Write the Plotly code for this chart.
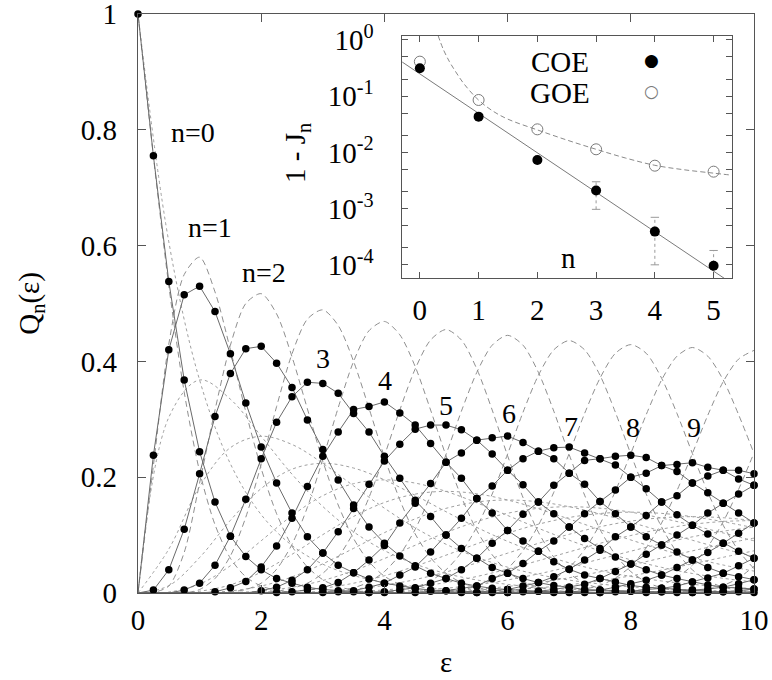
import plotly.graph_objects as go

# ---------------- data: main panel ----------------
EPS = [0, 0.25, 0.5, 0.75, 1, 1.25, 1.5, 1.75, 2, 2.25, 2.5, 2.75, 3, 3.25, 3.5, 3.75,
       4, 4.25, 4.5, 4.75, 5, 5.25, 5.5, 5.75, 6, 6.25, 6.5, 6.75, 7, 7.25, 7.5, 7.75,
       8, 8.25, 8.5, 8.75, 9, 9.25, 9.5, 9.75, 10]

# COE data points Q_n(eps), n = 0..15
COE0 = [1, .755, .538, .368, .244, .157, .098, .063, .04, .025, .017, .01, .006, .004, .002, .001, .001] + [0] * 24
COE1 = [0, .238, .42, .515, .53, .486, .413, .328, .252, .19, .138, .097, .069, .048, .035, .024, .017, .012,
        .008, .005, .004, .002, .001, .001, .001] + [0] * 16
COE2 = [0, .005, .04, .11, .206, .305, .379, .422, .426, .397, .355, .299, .248, .195, .152, .114, .086, .064,
        .047, .034, .025, .017, .012, .008, .006, .004, .003, .002, .001, .001, .001] + [0] * 10
COE3 = [0, 0, 0, .005, .017, .048, .098, .162, .232, .295, .339, .364, .362, .345, .31, .278, .236, .198, .16,
        .132, .1, .077, .06, .044, .034, .025, .018, .013, .01, .006, .005, .004, .003, .002, .002, .001, .001,
        0, 0, 0, 0]
COE4 = [0] * 5 + [.002, .009, .02, .045, .081, .129, .184, .236, .278, .317, .322, .33, .311, .29, .258, .226,
                  .198, .163, .138, .108, .09, .072, .054, .041, .031, .025, .019, .013, .01, .008, .006, .005,
                  .003, .002, .002, .001]
COE5 = [0] * 8 + [.004, .01, .022, .04, .069, .106, .146, .188, .228, .257, .283, .29, .29, .282, .264, .24,
                  .212, .187, .157, .137, .114, .094, .077, .062, .05, .04, .031, .025, .019, .014, .01, .008, .007]
COE6 = [0] * 9 + [.001, .002, .005, .009, .018, .035, .057, .082, .121, .155, .189, .226, .242, .264, .268,
                  .271, .26, .245, .232, .207, .188, .158, .137, .114, .097, .083, .071, .057, .044, .034, .028, .023]
COE7 = [0] * 12 + [.001, .002, .004, .01, .017, .031, .045, .071, .1, .129, .163, .185, .212, .232, .245, .251,
                   .252, .242, .232, .221, .2, .18, .157, .135, .117, .102, .086, .072, .06]
COE8 = [0] * 15 + [.001, .002, .005, .009, .017, .025, .04, .06, .086, .108, .136, .157, .186, .207, .229, .232,
                   .236, .238, .234, .22, .21, .19, .173, .155, .138, .121]
COE9 = [0] * 18 + [.001, .003, .004, .008, .012, .025, .034, .051, .072, .09, .114, .137, .158, .178, .2, .207,
                   .22, .222, .225, .217, .212, .197, .186]
COE10 = [0] * 21 + [.001, .001, .004, .006, .012, .018, .028, .041, .057, .074, .097, .114, .134, .157, .168, .19,
                    .202, .212, .212, .206]
COE11 = [0] * 24 + [.001, .002, .003, .006, .01, .015, .025, .037, .05, .067, .083, .1, .117, .138, .155, .171, .186]
COE12 = [0] * 27 + [.001, .002, .003, .005, .01, .016, .022, .031, .044, .057, .07, .086, .103, .121]
COE13 = [0] * 30 + [.001, .002, .003, .006, .008, .012, .019, .026, .034, .047, .06]
COE14 = [0] * 33 + [.001, .002, .003, .005, .007, .01, .016, .023]
COE15 = [0] * 36 + [.001, .0015, .002, .004, .007]
COE_CURVES = [COE0, COE1, COE2, COE3, COE4, COE5, COE6, COE7, COE8, COE9, COE10, COE11, COE12, COE13, COE14, COE15]

# GOE curves (long dashes), same eps grid
GOE0 = [1, .754, .531, .347, .21, .118, .06, .028, .012, .0045, .0016, .0005] + [0] * 29
GOE1 = [0, .22, .43, .55, .58, .52, .42, .313, .215, .137, .081, .045, .023, .011, .005, .002, .001] + [0] * 24
GOE2 = [0, .001, .012, .07, .19, .316, .428, .5, .517, .482, .408, .318, .228, .152, .094, .054, .029, .015,
        .007, .003, .001] + [0] * 20
GOE3 = [0] * 4 + [.006, .025, .064, .131, .222, .322, .413, .473, .489, .462, .4, .319, .235, .161, .102, .061,
                  .034, .018, .009, .004, .002] + [0] * 16
GOE4 = [0] * 6 + [.002, .006, .017, .041, .084, .148, .231, .32, .4, .453, .469, .446, .391, .316, .237, .166,
                  .108, .066, .037, .02, .01, .005, .002] + [0] * 12
GOE5 = [0] * 8 + [.001, .003, .008, .017, .034, .062, .105, .165, .237, .316, .387, .437, .455, .437, .387, .316,
                  .237, .165, .105, .062, .034, .017, .008, .003, .001] + [0] * 8
GOE6 = [0] * 12 + [.002, .004, .009, .019, .037, .066, .11, .169, .239, .314, .381, .428, .445, .428, .381, .314,
                   .239, .169, .11, .066, .037, .019, .009, .004, .002] + [0] * 4
GOE7 = [0] * 16 + [.002, .005, .01, .021, .04, .07, .114, .171, .24, .312, .376, .42, .436, .42, .376, .312, .24,
                   .171, .114, .07, .04, .021, .01, .005, .002]
GOE8 = [0] * 20 + [.002, .005, .012, .023, .042, .073, .117, .174, .241, .31, .371, .414, .429, .414, .371, .31,
                   .241, .174, .117, .073, .042]
GOE9 = [0] * 24 + [.003, .006, .013, .024, .044, .075, .119, .176, .241, .308, .368, .409, .424, .409, .368, .308, .241]
GOE10 = [0] * 28 + [.003, .007, .013, .026, .046, .078, .121, .177, .241, .307, .365, .404, .419]
GOE11 = [0] * 32 + [.003, .007, .014, .027, .048, .08, .123, .179, .242]
GOE12 = [0] * 36 + [.003, .007, .013, .026, .046]
GOE_CURVES = [GOE0, GOE1, GOE2, GOE3, GOE4, GOE5, GOE6, GOE7, GOE8, GOE9, GOE10, GOE11, GOE12]

# Poisson curves (short dashes), coarser eps grid
EPS_P = [0, 0.5, 1, 1.5, 2, 2.5, 3, 3.5, 4, 4.5, 5, 5.5, 6, 6.5, 7, 7.5, 8, 8.5, 9, 9.5, 10]
P0 = [1, .6065, .3679, .2231, .1353, .0821, .0498, .0302, .0183, .0111, .0067, .0041, .0025, .0015, .0009,
      .0006, .0003, .0002, .0001, .0001, 0]
P1 = [0, .3033, .3679, .3347, .2707, .2052, .1494, .1057, .0733, .05, .0337, .0225, .0149, .0098, .0064, .0041,
      .0027, .0017, .0011, .0007, .0005]
P2 = [0, .0758, .1839, .251, .2707, .2565, .224, .185, .1465, .1125, .0842, .0618, .0446, .0318, .0223, .0156,
      .0107, .0074, .005, .0034, .0023]
P3 = [0, .0126, .0613, .1255, .1804, .2138, .224, .2158, .1954, .1687, .1404, .1133, .0892, .0688, .0521, .0389,
      .0286, .0208, .015, .0107, .0076]
P4 = [0, .0016, .0153, .0471, .0902, .1336, .168, .1888, .1954, .1898, .1755, .1558, .1339, .1118, .0912, .0729,
      .0573, .0443, .0337, .0254, .0189]
P5 = [0, .0002, .0031, .0141, .0361, .0668, .1008, .1322, .1563, .1708, .1755, .1714, .1606, .1454, .1277, .1094,
      .0916, .0752, .0607, .0483, .0378]
P6 = [0, 0, .0005, .0035, .012, .0278, .0504, .0771, .1042, .1281, .1462, .1571, .1606, .1575, .149, .1367,
      .1221, .1066, .0911, .0764, .0631]
P7 = [0, 0, .0001, .0008, .0034, .0099, .0216, .0385, .0595, .0824, .1044, .1234, .1377, .1462, .149, .1465,
      .1396, .1294, .1171, .1037, .0901]
P8 = [0, 0, 0, .0001, .0009, .0031, .0081, .0169, .0298, .0463, .0653, .0849, .1033, .1188, .1304, .1373, .1396,
      .1375, .1318, .1232, .1126]
P9 = [0, 0, 0, 0, .0002, .0009, .0027, .0066, .0132, .0232, .0363, .0519, .0688, .0858, .1014, .1144, .1241,
      .1299, .1318, .13, .1251]
P10 = [0, 0, 0, 0, 0, .0002, .0008, .0023, .0053, .0104, .0181, .0285, .0413, .0558, .071, .0858, .0993, .1104,
       .1186, .1235, .1251]
P11 = [0] * 6 + [.0002, .0007, .0019, .0043, .0082, .0143, .0225, .033, .0452, .0585, .0722, .0853, .097, .1067, .1137]
P12 = [0] * 7 + [.0002, .0006, .0016, .0034, .0065, .0113, .0179, .0263, .0366, .0481, .0604, .0728, .0844, .0948]
P13 = [0] * 8 + [.0002, .0006, .0013, .0028, .0052, .0089, .0142, .0211, .0296, .0395, .0504, .0617, .0729]
POIS_CURVES = [P0, P1, P2, P3, P4, P5, P6, P7, P8, P9, P10, P11, P12, P13]

# curve labels
LABELS = ["n=0", "n=1", "n=2", "3", "4", "5", "6", "7", "8", "9"]
LABEL_X = [0.9, 1.17, 2.04, 3.01, 4.01, 5.0, 6.02, 7.03, 8.03, 9.02]
LABEL_Y = [0.795, 0.632, 0.554, 0.405, 0.367, 0.324, 0.31, 0.287, 0.286, 0.286]

# ---------------- data: inset ----------------
INSET_N = [0, 1, 2, 3, 4, 5]
COE_1MJ = [0.313, 0.0432, 0.00732, 0.0021, 0.00039, 0.000096]
GOE_1MJ = [0.411, 0.0855, 0.0257, 0.01135, 0.0058, 0.00454]
ERR_N = [3, 4, 5]
ERR_LO = [0.00097, 0.0001, 0.00004]
ERR_HI = [0.003, 0.0007, 0.00018]
FIT_COE_N = [-0.3, 5.3]
FIT_COE = [0.404, 0.0000475]
FIT_GOE_N = [0.31, 0.4, 0.5, 0.6, 0.75, 1.0, 1.25, 1.5, 2.0, 2.5, 3.0, 3.5, 4.0, 4.5, 5.0, 5.3]
FIT_GOE = [1.2, 0.676, 0.417, 0.282, 0.166, 0.0851, 0.0537, 0.0389, 0.0251, 0.0166, 0.01135, 0.00794,
           0.00589, 0.0049, 0.00427, 0.00394]
INSET_YTICKS = [1e-4, 1e-3, 1e-2, 1e-1, 1]
INSET_YTEXT = ["10<sup>-4</sup>", "10<sup>-3</sup>", "10<sup>-2</sup>", "10<sup>-1</sup>", "10<sup>0</sup>"]
INSET_YMINOR = [2e-4, 5e-4, 2e-3, 5e-3, 2e-2, 5e-2, 2e-1, 5e-1]

FONT = "Liberation Serif, Times New Roman, DejaVu Serif, serif"
FRAME = "#555555"

fig = go.Figure()

# Poisson (short dashed)
for ys in POIS_CURVES:
    fig.add_trace(go.Scatter(x=EPS_P, y=ys, mode="lines", line=dict(color="#a0a0a0", width=1, dash="3px,3px",
                                                                    shape="spline", smoothing=1.0),
                             hoverinfo="skip", xaxis="x", yaxis="y"))
# GOE (long dashed)
for ys in GOE_CURVES:
    fig.add_trace(go.Scatter(x=EPS, y=ys, mode="lines", line=dict(color="#8f8f8f", width=1, dash="6px,4px",
                                                                  shape="spline", smoothing=0.8),
                             hoverinfo="skip", xaxis="x", yaxis="y"))
# COE lines + points
for ys in COE_CURVES:
    fig.add_trace(go.Scatter(x=EPS, y=ys, mode="lines", line=dict(color="#6a6a6a", width=1),
                             hoverinfo="skip", xaxis="x", yaxis="y"))
for ys in COE_CURVES:
    px = [e for e, v in zip(EPS, ys) if v > 0]
    py = [v for v in ys if v > 0]
    fig.add_trace(go.Scatter(x=px, y=py, mode="markers", marker=dict(color="black", size=7.5),
                             cliponaxis=False, xaxis="x", yaxis="y"))

# inset traces
fig.add_trace(go.Scatter(x=FIT_COE_N, y=FIT_COE, mode="lines", line=dict(color="#7a7a7a", width=1),
                         xaxis="x2", yaxis="y2"))
fig.add_trace(go.Scatter(x=FIT_GOE_N, y=FIT_GOE, mode="lines",
                         line=dict(color="#8a8a8a", width=1, dash="5px,3px", shape="spline"),
                         xaxis="x2", yaxis="y2"))
ex, ey = [], []
for n, lo, hi in zip(ERR_N, ERR_LO, ERR_HI):
    ex += [n, n, None]
    ey += [lo, hi, None]
fig.add_trace(go.Scatter(x=ex, y=ey, mode="lines+markers", line=dict(color="#999999", width=1, dash="dot"),
                         marker=dict(symbol="line-ew-open", size=6, color="#999999", line=dict(width=1, color="#999999")),
                         xaxis="x2", yaxis="y2"))
fig.add_trace(go.Scatter(x=INSET_N, y=GOE_1MJ, mode="markers",
                         marker=dict(symbol="circle-open", size=11, color="#7a7a7a", line=dict(width=1, color="#7a7a7a")),
                         xaxis="x2", yaxis="y2"))
fig.add_trace(go.Scatter(x=INSET_N, y=COE_1MJ, mode="markers", marker=dict(color="black", size=10),
                         xaxis="x2", yaxis="y2"))

tickfont = dict(family=FONT, size=29, color="black")
axis_common = dict(showline=True, linecolor=FRAME, linewidth=1.3, mirror="ticks", ticks="inside",
                   tickcolor=FRAME, tickwidth=1.2, showgrid=False, zeroline=False, tickfont=tickfont,
                   automargin=False, ticklabeloverflow="allow")

fig.update_layout(
    width=772, height=680, showlegend=False,
    paper_bgcolor="white", plot_bgcolor="white",
    margin=dict(l=138, r=18, t=14, b=87, autoexpand=False),
    xaxis=dict(domain=[0, 1], range=[0, 10], tickvals=[0, 2, 4, 6, 8, 10], ticklen=8,
               ticklabelstandoff=1, **axis_common),
    yaxis=dict(domain=[0, 1], range=[0, 1], tickvals=[0, 0.2, 0.4, 0.6, 0.8, 1],
               ticktext=["0", "0.2", "0.4", "0.6", "0.8", "1"], ticklen=8, ticklabelstandoff=14, **axis_common),
    xaxis2=dict(domain=[0.428, 0.964], range=[-0.31, 5.31], tickvals=INSET_N, ticklen=6,
                ticklabelstandoff=6, anchor="y2", **axis_common),
    yaxis2=dict(domain=[0.5435, 0.962], type="log", range=[-4.24, 0.07], tickvals=INSET_YTICKS,
                ticktext=INSET_YTEXT, ticklen=6, ticklabelstandoff=21, anchor="x2",
                minor=dict(tickmode="array", tickvals=INSET_YMINOR, ticks="inside", ticklen=6,
                           tickcolor=FRAME, tickwidth=1.2, showgrid=False),
                **axis_common),
)


def txt(x, y, text, size=29, ref="paper", angle=0, family=FONT, color="black"):
    return dict(x=x, y=y, xref=ref, yref=ref, text=text, showarrow=False, textangle=angle,
                xanchor="center", yanchor="middle", font=dict(family=family, size=size, color=color))


ann = [dict(x=x, y=y, xref="x", yref="y", text=t, showarrow=False, xanchor="center", yanchor="middle",
            font=dict(family=FONT, size=28, color="black"))
       for t, x, y in zip(LABELS, LABEL_X, LABEL_Y)]
ann += [
    txt(0.5, -0.119, "ε"),
    txt(-0.175, 0.5, "Q<sub>n</sub>(ε)", angle=-90),
    txt(0.258, 0.76, "1 - J<sub>n</sub>", angle=-90),
    txt(0.6985, 0.578, "n"),
    txt(0.685, 0.9176, "COE"),
    txt(0.685, 0.864, "GOE"),
    txt(0.834, 0.9206, "●", size=17, family="DejaVu Sans"),
    txt(0.834, 0.8675, "○", size=17, family="DejaVu Sans", color="#7a7a7a"),
]
fig.update_layout(annotations=ann)

fig.write_html("out.html", config={"displayModeBar": False},
               post_script="document.body.style.margin='0px';")
